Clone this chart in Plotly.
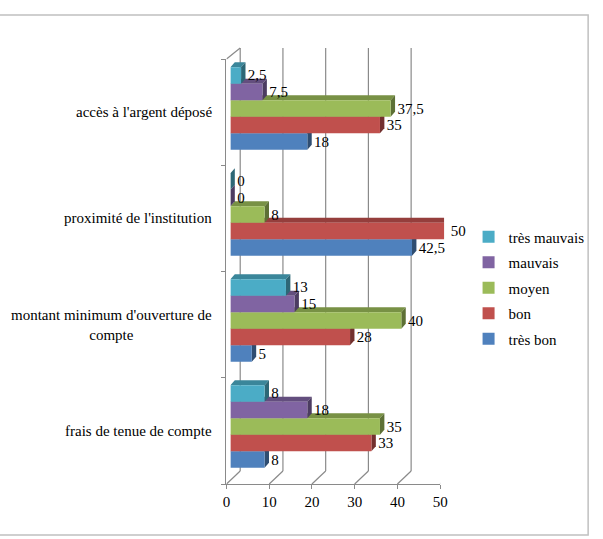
import plotly.graph_objects as go

# ---------------- data ----------------
categories = ["frais de tenue de compte",
              "montant minimum d'ouverture de<br>compte",
              "proximité de l'institution",
              "accès à l'argent déposé"]
series_names = ["très bon", "bon", "moyen", "mauvais", "très mauvais"]
tres_bon = [8, 5, 42.5, 18]
bon = [33, 28, 50, 35]
moyen = [35, 40, 8, 37.5]
mauvais = [18, 15, 0, 7.5]
tres_mauvais = [8, 13, 0, 2.5]
x_ticks = [0, 10, 20, 30, 40, 50]

series_values = [tres_bon, bon, moyen, mauvais, tres_mauvais]
colors = ["#4F81BD", "#C0504D", "#9BBB59", "#8064A2", "#4BACC6"]

# ---------------- geometry (pixels) ----------------
W, H = 603, 539
FONT = "Liberation Serif"
FS = 15
bar_x = (231, 449)
bar_y = (55.5, 479.5)
front_x = (227, 445)
front_y = (59, 484)
back_x = (241, 459)
back_y = (48, 471)
GRID = "#8a8a8a"


def fx(a, b):
    return [a / W, b / W]


def fy(top, bottom):
    return [1 - bottom / H, 1 - top / H]


def shade(hex_color, f):
    h = hex_color.lstrip("#")
    r, g, b = (int(h[i:i + 2], 16) for i in (0, 2, 4))
    return "#%02x%02x%02x" % (int(r * f), int(g * f), int(b * f))


def fmt(v):
    return "\u00a0" + ("%g" % v).replace(".", ",")


y_pos = list(range(len(categories)))
bargap = 0.22
n = len(series_names)
bw = (1 - bargap) / n
px_per_unit = (bar_x[1] - bar_x[0]) / 50.0
dx = 4.5 / px_per_unit
dy = 5.0 / ((bar_y[1] - bar_y[0]) / 4.0)

fig = go.Figure()
for j, (name, vals, col) in enumerate(zip(series_names, series_values, colors)):
    fig.add_trace(go.Bar(
        y=y_pos, x=vals, name=name, orientation="h",
        marker=dict(color=col, line=dict(width=0)),
        text=[fmt(v) for v in vals], textposition="outside",
        textfont=dict(family=FONT, size=FS, color="#000000"),
        constraintext="none", cliponaxis=False,
        legendgroup=name, legendrank=100 - j,
        xaxis="x", yaxis="y",
    ))

# dummy trace to create the front-plane subplot
fig.add_trace(go.Scatter(x=[None], y=[None], xaxis="x3", yaxis="y3",
                         showlegend=False, hoverinfo="skip"))

shapes = []
# back wall grid lines (in bar-axis units shifted to the back plane)
back_shift = (back_x[0] - bar_x[0]) / px_per_unit
for t in x_ticks:
    shapes.append(dict(type="line", xref="x", yref="paper",
                       x0=t + back_shift, x1=t + back_shift,
                       y0=1 - back_y[1] / H, y1=1 - back_y[0] / H,
                       line=dict(color=GRID, width=1.2), layer="below"))
# floor diagonals
front_ppu = (front_x[1] - front_x[0]) / 50.0
depth_units = (back_x[0] - front_x[0]) / front_ppu
for t in x_ticks:
    shapes.append(dict(type="line", xref="x3", yref="paper",
                       x0=t, x1=t + depth_units,
                       y0=1 - front_y[1] / H, y1=1 - back_y[1] / H,
                       line=dict(color=GRID, width=1.2), layer="below"))
# left wall top diagonal
shapes.append(dict(type="line", xref="x3", yref="paper",
                   x0=0, x1=depth_units,
                   y0=1 - front_y[0] / H, y1=1 - back_y[0] / H,
                   line=dict(color=GRID, width=1.2), layer="below"))

# 3D faces of bars (top and side), drawn under the bar fronts
for j, (vals, col) in enumerate(zip(series_values, colors)):
    for i, v in zip(y_pos, vals):
        yb = i - (1 - bargap) / 2 + bw * j
        yt = yb + bw
        top = "M 0,{a} L {v},{a} L {v2},{b} L {d},{b} Z".format(
            a=yt, b=yt + dy, v=v, v2=v + dx, d=dx)
        side = "M {v},{yb} L {v},{yt} L {v2},{yt2} L {v2},{yb2} Z".format(
            v=v, v2=v + dx, yb=yb, yt=yt, yt2=yt + dy, yb2=yb + dy)
        shapes.append(dict(type="path", path=top, xref="x", yref="y",
                           fillcolor=shade(col, 0.78), line=dict(width=0),
                           layer="below"))
        shapes.append(dict(type="path", path=side, xref="x", yref="y",
                           fillcolor=shade(col, 0.6), line=dict(width=0),
                           layer="below"))

# outer chart frame
shapes.append(dict(type="rect", xref="paper", yref="paper",
                   x0=-6 / W, x1=596 / W, y0=1 - 535 / H, y1=1 - 15 / H,
                   line=dict(color="#c0c0c0", width=1.5), layer="above"))

annotations = []
for i, cat in zip(y_pos, categories):
    annotations.append(dict(
        text=cat, xref="paper", yref="y3", x=214 / W, y=i,
        xanchor="right", yanchor="middle", align="center", showarrow=False,
        font=dict(family=FONT, size=FS, color="#000000")))

fig.update_layout(
    width=W, height=H,
    margin=dict(l=0, r=0, t=0, b=0),
    font=dict(family=FONT, size=FS, color="#000000"),
    paper_bgcolor="white", plot_bgcolor="rgba(0,0,0,0)",
    barmode="group", bargap=bargap, bargroupgap=0,
    showlegend=True,
    legend=dict(x=474 / W, y=1 - 288 / H, xanchor="left", yanchor="middle",
                traceorder="grouped", tracegroupgap=3,
                font=dict(family=FONT, size=FS, color="#000000"),
                bgcolor="rgba(0,0,0,0)"),
    xaxis=dict(domain=fx(*bar_x), range=[0, 50], visible=False,
               anchor="y"),
    yaxis=dict(domain=fy(*bar_y), range=[-0.5, 3.5], visible=False,
               anchor="x"),
    xaxis3=dict(domain=fx(*front_x), range=[0, 50], anchor="y3",
                tickmode="array", tickvals=x_ticks,
                ticktext=[str(t) for t in x_ticks],
                showline=True, linecolor=GRID, linewidth=1.2,
                ticks="outside", ticklen=4, tickcolor=GRID,
                showgrid=False, zeroline=False,
                tickfont=dict(family=FONT, size=FS, color="#000000")),
    yaxis3=dict(domain=fy(*front_y), range=[-0.5, 3.5], anchor="x3",
                tickmode="array", tickvals=[-0.5, 0.5, 1.5, 2.5, 3.5],
                showticklabels=False,
                showline=True, linecolor=GRID, linewidth=1.2,
                ticks="outside", ticklen=4, tickcolor=GRID,
                showgrid=False, zeroline=False),
    shapes=shapes,
    annotations=annotations,
)

fig.write_html("out.html", config={"displayModeBar": False},
               post_script="document.body.style.margin='0px';document.body.style.overflow='hidden';")
